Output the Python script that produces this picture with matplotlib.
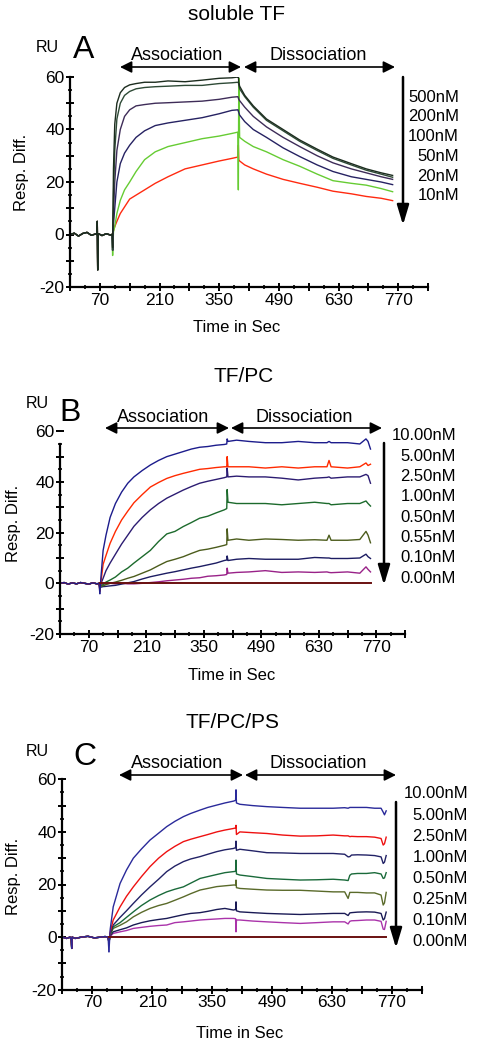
import matplotlib
matplotlib.use("Agg")
import matplotlib.pyplot as plt
from matplotlib.patches import FancyArrowPatch
from matplotlib.ticker import FixedLocator

plt.rcParams['font.family'] = ['Liberation Sans', 'DejaVu Sans']

W, H = 478, 1050

# ---------------- Panel A: soluble TF ----------------
A_pre_t = [0, 10, 20, 30, 40, 50, 60, 63, 64, 65, 66, 67, 75, 85, 95, 99]
A_pre_v = [0, 0.5, -0.6, 0.4, 0.8, -0.3, 0.2, 0, 5, -13.5, 0, 0.3, -0.4, 0.3, -0.2, 0]
A_t = [99, 100, 102, 105, 110, 118, 128, 140, 155, 175, 200, 230, 270, 310, 350, 380,
       394, 395, 396, 398, 410, 430, 461, 500, 539, 580, 617, 660, 695, 730, 757]
A_labels = ["500nM", "200nM", "100nM", "50nM", "20nM", "10nM"]
A_500 = [0, -5, 25, 42, 50, 54, 56, 57, 57.5, 58, 58, 58.5, 58.2, 58.8, 59.5, 59.7,
         60, 60.5, 58, 56.5, 53, 49, 44, 40, 36, 32.5, 29.5, 27, 25, 23.5, 22.5]
A_200 = [0, -6, 15, 32, 44, 50, 53, 54.5, 55.5, 56, 56.3, 56.5, 56.8, 56.8, 57.5, 57.8,
         58, 58, 57, 55.5, 52.5, 48.5, 43.5, 39.5, 35.5, 32, 29, 26.5, 24.5, 23, 21.8]
A_100 = [0, -6, 8, 20, 32, 40, 45, 47.5, 49, 49.5, 50, 50.2, 50.5, 50.8, 51.5, 52.3,
         52.5, 52, 51.5, 51, 48.5, 45, 41, 37, 33.5, 30, 27.3, 25, 23.5, 22, 21]
A_50 = [0, -6, 4, 10, 20, 27, 31, 34, 37, 39.5, 41.5, 42.5, 43.5, 44.5, 46, 47.3,
        47.5, 47, 46.5, 45.5, 43, 40, 37, 33, 29.7, 26.5, 24, 22, 21, 20, 19]
A_20 = [0, -8, 1, 3, 8, 13, 17, 20, 24, 28.5, 31.5, 33.5, 35, 36.5, 37.5, 38.5,
        39, 17, 59.6, 37, 35.5, 33.5, 31.5, 28.5, 26, 23, 20.5, 19.5, 18.8, 17.5, 16.3]
A_10 = [0, 0.5, 1.5, 3, 5, 8, 10.5, 13.5, 15, 17, 19.5, 22, 25, 26.5, 28, 29,
        29.5, 34, 28.5, 28, 26.5, 25, 23, 21, 19.5, 18, 16.5, 15.5, 14.5, 13.8, 12.9]
A_colors = ['#1c2c1e', '#2e4a36', '#3e2c58', '#262262', '#66cc33', '#ff2a10']

# ---------------- Panel B: TF/PC ----------------
B_pre_t = [0, 10, 20, 30, 40, 50, 60, 70, 80, 90, 95]
B_pre_v = [0, 0.3, -0.3, 0.2, -0.2, 0.3, 0, -0.3, 0.2, -0.2, 0]
B_t = [97, 100, 105, 112, 122, 135, 150, 165, 180, 200, 220, 240, 260, 280, 300, 320,
       340, 360, 380, 400, 406, 407, 409, 430, 460, 500, 540, 580, 620, 650, 655, 660,
       700, 730, 745, 750, 756]
B_labels = ["10.00nM", "5.00nM", "2.50nM", "1.00nM", "0.50nM", "0.55nM", "0.10nM", "0.00nM"]
B_c1 = [-4, 3, 13, 19, 26, 31.5, 36, 39.5, 42, 44.5, 46.7, 48.5, 50, 51, 52, 53, 53.7, 54,
        54.5, 54.8, 55, 57, 56, 56.5, 56, 55.5, 55.5, 56, 55.5, 55.5, 56, 55.5, 55.5, 55, 57, 56, 53]
B_c2 = [-3, 1, 7.5, 11, 15.8, 20.5, 25, 28.5, 31.8, 35, 38, 39.8, 41.4, 42.5, 43.4, 44.2, 45,
        45.3, 45.7, 46, 46, 50, 46, 46, 46, 45.5, 46, 45.5, 46, 46, 48.5, 46, 45.5, 46, 47.5, 46.5, 47]
B_c3 = [-2, 0, 2, 5, 8, 11.5, 15.5, 19, 22.5, 26, 29, 31.5, 33.6, 35.2, 36.8, 38.2, 39.5, 40.3,
        41, 41.7, 42, 45.5, 42, 42.3, 42, 42, 41.5, 40.8, 41.5, 41.8, 42, 41.5, 42, 42, 43, 42.5, 39.5]
B_c4 = [-1.5, -1, -0.5, 0.5, 1.3, 2.5, 4.5, 6, 8, 10.5, 13, 16.5, 19.5, 20.5, 22.4, 24, 25.7,
        26.5, 27.8, 29, 29.5, 37, 32, 31.5, 31.5, 31.5, 31, 31.5, 32, 31.5, 31.5, 31, 31.5, 31.5, 32.5, 31.5, 30.5]
B_c5 = [-1.5, -1, -1, -0.5, 0, 0.5, 1.2, 2, 2.7, 4, 5.3, 7, 8.6, 9.5, 10.5, 11.8, 13, 13.5,
        14.2, 15, 15.3, 21.5, 17, 17.5, 17, 17.5, 17.3, 17, 17.2, 17, 19, 17, 17, 17.3, 20.5, 19, 16]
B_c6 = [-1.5, -1.5, -1.3, -1.2, -1, -0.8, -0.3, 0.2, 0.7, 1.7, 2.6, 3.3, 4, 4.6, 5.3, 6, 6.6,
        7.3, 8, 9, 9.2, 10.8, 9, 9.5, 9.8, 9.5, 9.5, 9.5, 10.2, 10, 10, 9.8, 9.8, 10, 11.5, 10.5, 9.8]
B_c7 = [-0.5, -0.3, -0.3, -0.2, 0, -0.2, 0, -0.2, -0.2, 0, 0.3, 0.6, 1, 1.3, 1.6, 2, 2.2, 2.8,
        3, 3.3, 3.5, 6, 4, 4.3, 4.5, 5, 4.3, 4.5, 4.3, 4.5, 4.3, 4.2, 4.5, 4, 6.5, 5.5, 4.5]
B_zero_t = [97, 756]
B_zero_v = [0.0, 0.0]
B_colors = ['#1c1c8c', '#ff2a00', '#2c1c72', '#1c6a2c', '#4c5c1c', '#1c1c62', '#992288']

# ---------------- Panel C: TF/PC/PS ----------------
C_pre_t = [0, 10, 18, 21, 22, 23, 30, 45, 60, 75, 90, 100, 107]
C_pre_v = [0, -0.5, 0, -1, -4.3, 0, -0.5, 0, 0.3, -0.3, 0, 0.2, 0]
C_t = [109, 112, 119, 135, 150, 166, 185, 205, 225, 244, 263, 283, 300, 322, 340, 361, 380,
       400, 405, 406, 407, 415, 445, 478, 515, 556, 595, 633, 660, 668, 672, 676, 690, 711,
       730, 745, 750, 753, 757]
C_labels = ["10.00nM", "5.00nM", "2.50nM", "1.00nM", "0.50nM", "0.25nM", "0.10nM", "0.00nM"]
C_c1 = [-5.5, 3, 11.5, 20.4, 25.5, 30, 33.5, 36.9, 39.5, 42, 44, 45.8, 47, 48.3, 49.3, 50.2, 51,
        51.7, 52, 56, 51, 50.5, 50, 49.6, 49.3, 49, 49, 49, 49.2, 49, 49.3, 49.3, 49.3, 49.3,
        49, 49, 47.5, 46.5, 48]
C_c2 = [-2, 2, 6.5, 11.5, 15.5, 19.1, 23, 26.8, 30, 32.5, 34.5, 36.3, 37.2, 38.2, 39, 40, 40.7,
        41.3, 41.5, 42.5, 39, 40, 39.7, 39.4, 38.8, 38.4, 38.5, 38.8, 38.5, 38.5, 38.2, 38.3,
        38.2, 38.2, 38, 37.5, 35, 35.5, 38]
C_c3 = [-2, 1.5, 4.6, 7.5, 10, 12.8, 16, 19.1, 22, 24.9, 27, 28.7, 29.7, 30.6, 31.5, 32.5, 33.2,
        33.7, 34, 36.5, 33, 33.4, 32.8, 32.1, 32, 31.8, 31.8, 31.8, 31.5, 30.5, 30.6, 31.2,
        31.3, 31.2, 31, 30.5, 28, 28.5, 31]
C_c4 = [-2, 1, 3.9, 5.5, 7.5, 9.6, 12, 14.1, 15.8, 17.2, 18.2, 19.1, 20.5, 22.3, 23, 23.8, 24.5,
        24.9, 25, 29.3, 24, 23.6, 23, 22.3, 22, 21.7, 21.8, 22, 21.7, 21.5, 23.5, 24, 24.2,
        24.2, 24.5, 24, 22.3, 22.5, 24.5]
C_c5 = [-2, 0.8, 3.3, 4.5, 5.8, 7.7, 9.4, 10.9, 12, 12.8, 14, 15.3, 16.5, 17.9, 18.5, 19.2,
        19.5, 19.8, 19.8, 21.7, 18.8, 18.5, 18.2, 17.9, 17.8, 17.8, 17.5, 17.2, 17.2, 14.7, 17,
        17, 17, 16.8, 16.8, 16, 12.2, 13, 17]
C_c6 = [-2, 0.5, 2, 2.8, 3.5, 4.6, 5.5, 6.2, 6.7, 7.1, 7.8, 8.5, 9, 9.3, 9.8, 10.5, 10.9, 10.3,
        10.5, 13.4, 10, 9.6, 9.3, 9, 8.8, 8.6, 8.8, 9, 9, 8.2, 9.2, 9.3, 9.5, 9.6, 9.5, 9, 6.5, 7, 9.5]
C_c7 = [-1, 0.3, 1.4, 2, 2.5, 3.3, 3.7, 4.1, 4.4, 4.6, 5.5, 5.8, 6.1, 6.5, 6.7, 6.9, 7.1, 7.1,
        7, 2, 6.5, 6.5, 6.1, 5.8, 5.5, 5.2, 5.5, 5.8, 5.8, 5, 6, 6.2, 6.3, 6.5, 6.5, 6, 3, 2.9, 6]
C_zero_t = [109, 757]
C_zero_v = [0.0, 0.0]
C_colors = ['#2a2a9a', '#ee1111', '#222266', '#1a6a3a', '#5a6a2a', '#1a1a55', '#aa33aa']

ZERO_COLOR = '#6a1010'
x_major = list(range(0, 841, 70))
x_minor = list(range(35, 841, 70))
x_labels = ['' if (v - 70) % 140 else str(v) for v in x_major]
y_major = list(range(-20, 61, 10))
y_minor = list(range(-15, 60, 10))
y_labels = [str(v) if v % 20 == 0 else '' for v in y_major]

fig = plt.figure(figsize=(W / 100, H / 100), dpi=100)


def fx(x):
    return x / W


def fy(y):
    return 1 - y / H


def make_axes(left, right, top, bottom, ytop):
    ax = fig.add_axes([fx(left), fy(bottom), (right - left) / W, (bottom - top) / H])
    ax.set_xlim(0, 840)
    ax.set_ylim(-20, 60)
    for s in ('top', 'right'):
        ax.spines[s].set_visible(False)
    for s in ('left', 'bottom'):
        ax.spines[s].set_linewidth(1.6)
    ax.spines['left'].set_bounds(-20, ytop)
    ax.set_xticks(x_major)
    ax.set_xticklabels(x_labels)
    ax.xaxis.set_minor_locator(FixedLocator(x_minor))
    ax.set_yticks(y_major)
    ax.set_yticklabels(y_labels)
    ax.yaxis.set_minor_locator(FixedLocator(y_minor))
    ax.tick_params(which='major', direction='inout', length=6, width=1.4, labelsize=12.5, pad=1)
    ax.tick_params(which='minor', direction='inout', length=3, width=1.2)
    ax.patch.set_alpha(0)
    return ax


def arrow(x0, y0, x1, y1, style, lw, ms):
    fig.add_artist(FancyArrowPatch((fx(x0), fy(y0)), (fx(x1), fy(y1)),
                                   transform=fig.transFigure, arrowstyle=style,
                                   color='black', lw=lw, mutation_scale=ms,
                                   shrinkA=0, shrinkB=0))


def decorate(title, tpos, letter, lpos, rupos, assoc, dissoc, ay, a0, a1, d0, d1,
             legx, leg_top, leg_bot, labx, laby0, labdy, labels, xlab, ylab):
    fig.text(fx(tpos[0]), fy(tpos[1]), title, fontsize=15, ha='center', va='center')
    fig.text(fx(lpos[0]), fy(lpos[1]), letter, fontsize=23, ha='center', va='center')
    fig.text(fx(rupos[0]), fy(rupos[1]), 'RU', fontsize=11.5, ha='center', va='center')
    fig.text(fx(assoc[0]), fy(assoc[1]), 'Association', fontsize=13, ha='center', va='center')
    fig.text(fx(dissoc[0]), fy(dissoc[1]), 'Dissociation', fontsize=13, ha='center', va='center')
    arrow(a0, ay, a1, ay, '<|-|>,head_length=0.7,head_width=0.35', 1.2, 10)
    arrow(d0, ay, d1, ay, '<|-|>,head_length=0.7,head_width=0.35', 1.2, 10)
    arrow(legx, leg_top, legx, leg_bot, '-|>,head_length=1.0,head_width=0.3', 1.8, 12)
    for i, lab in enumerate(labels):
        fig.text(fx(labx), fy(laby0 + i * labdy), lab, fontsize=12, ha='right', va='center')
    fig.text(fx(xlab[0]), fy(xlab[1]), 'Time in Sec', fontsize=12, ha='center', va='center')
    fig.text(fx(ylab[0]), fy(ylab[1]), 'Resp. Diff.', fontsize=12, ha='center', va='center',
             rotation=90)


# ---- Panel A
axA = make_axes(70, 428, 77, 287, 60)
A_series = [A_10, A_20, A_50, A_100, A_200, A_500]
A_cols = A_colors[::-1]
for vals, col in zip(A_series, A_cols):
    axA.plot(A_pre_t, A_pre_v, color=col, lw=1.0)
    axA.plot(A_t, vals, color=col, lw=1.0)
decorate('soluble TF', (236, 15), 'A', (84, 50), (47, 48), (177, 56), (318, 56), 67,
         120, 241, 244, 395, 403, 77, 225, 459, 97, 19.8, A_labels, (237, 327), (22, 172))

# ---- Panel B
axB = make_axes(60, 405, 431.3, 634, 55)
B_series = [B_c1, B_c2, B_c3, B_c4, B_c5, B_c6, B_c7]
for vals, col in zip(B_series[::-1], B_colors[::-1]):
    axB.plot(B_pre_t + [B_t[0]], B_pre_v + [vals[0]], color=col, lw=1.0)
    axB.plot(B_t, vals, color=col, lw=1.0)
axB.plot(B_zero_t, B_zero_v, color=ZERO_COLOR, lw=1.4)
decorate('TF/PC', (244, 377), 'B', (70, 413), (37, 403), (163, 417), (304, 417), 428,
         105, 229, 231, 382, 384, 443, 585, 456, 436, 20.3, B_labels, (232, 675), (14, 523))

# ---- Panel C
axC = make_axes(62.3, 421.7, 779.3, 989.7, 60)
C_series = [C_c1, C_c2, C_c3, C_c4, C_c5, C_c6, C_c7]
for vals, col in zip(C_series[::-1], C_colors[::-1]):
    axC.plot(C_pre_t + [C_t[0]], C_pre_v + [vals[0]], color=col, lw=1.0)
    axC.plot(C_t, vals, color=col, lw=1.0)
axC.plot(C_zero_t, C_zero_v, color=ZERO_COLOR, lw=1.4)
decorate('TF/PC/PS', (233, 723), 'C', (85, 757), (37, 751), (177, 764), (318, 764), 775,
         119, 243, 245, 396, 396, 802, 948, 468, 794, 21.1, C_labels, (240, 1033), (14, 876))

fig.savefig('out.png', dpi=100)
